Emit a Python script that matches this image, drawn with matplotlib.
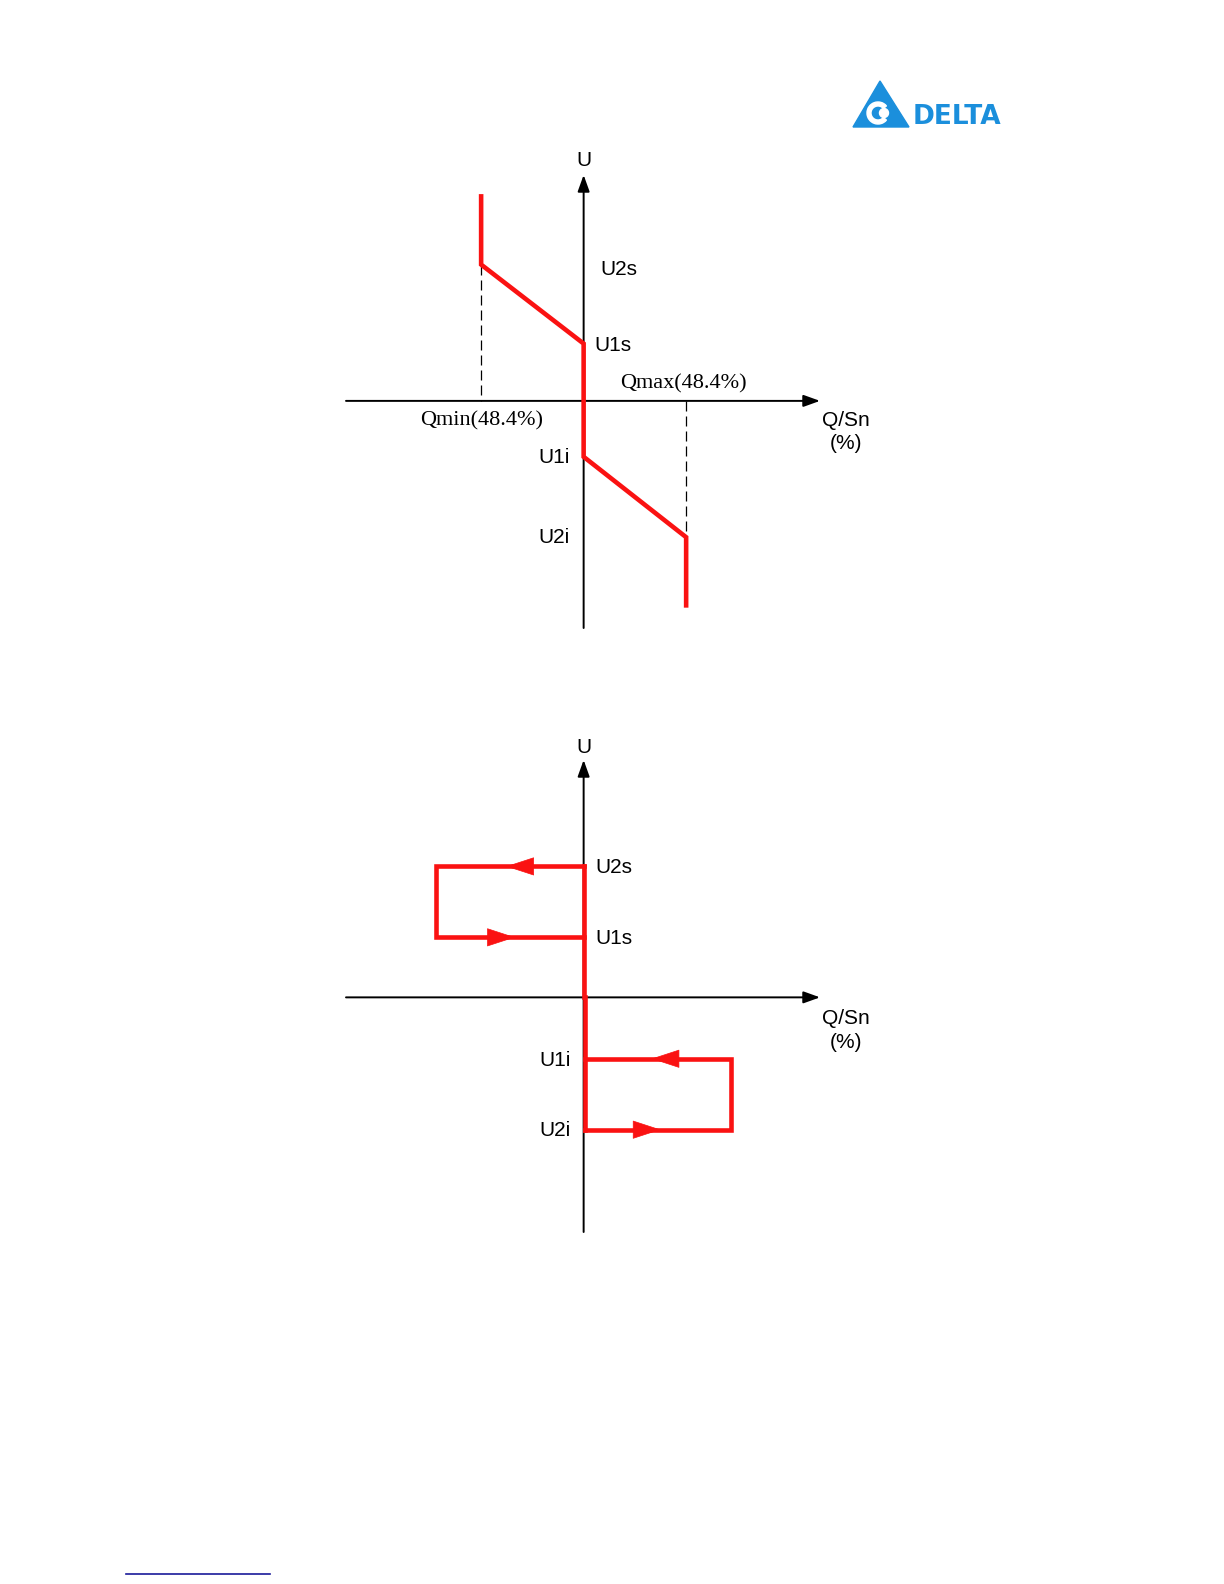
import matplotlib
matplotlib.use("Agg")
import matplotlib.pyplot as plt
from matplotlib.patches import Polygon, Circle, Wedge

# Datos de la curva Q(U) (grafico superior): Q/Sn en %, U en % de Un
q_curva = [-48.4, -48.4, 0.0, 0.0, 48.4, 48.4]
u_curva = [115.0, 110.0, 104.2, 95.9, 90.0, 85.0]

# Niveles de tension del grafico inferior (histeresis)
u2s_inf, u1s_inf, u1i_inf, u2i_inf = 109.6, 104.4, 95.5, 90.3
q_lazo = 69.6          # anchura de los lazos en %
q_desplazado = 0.8     # el tramo inferior esta ligeramente desplazado
q_lazo_sup = [0.0, -q_lazo, -q_lazo, 0.0]
u_lazo_sup = [u2s_inf, u2s_inf, u1s_inf, u1s_inf]
q_lazo_inf = [q_desplazado, q_lazo, q_lazo, q_desplazado]
u_lazo_inf = [u1i_inf, u1i_inf, u2i_inf, u2i_inf]
q_vertical = [0.0, 0.0]
u_vertical = [u2s_inf, 100.0]
q_vertical_inf = [q_desplazado, q_desplazado]
u_vertical_inf = [100.0, u2i_inf]

# Flechas del lazo: (q_base, q_punta, u)
flechas = [(-24.0, -36.6, u2s_inf), (-45.0, -32.4, u1s_inf),
           (45.0, 32.0, u1i_inf), (24.0, 36.4, u2i_inf)]

ROJO = "#fa1212"
SANS = "Liberation Sans"
SERIF = "Liberation Serif"

W, H = 1224, 1584
fig = plt.figure(figsize=(W / 100, H / 100), dpi=100)


def crear_ejes(px_izq, px_sup, px_der, px_inf, xlim, ylim):
    ax = fig.add_axes([px_izq / W, 1 - px_inf / H, (px_der - px_izq) / W, (px_inf - px_sup) / H])
    ax.set_xlim(*xlim)
    ax.set_ylim(*ylim)
    ax.axis("off")
    return ax


def dibujar_ejes(ax):
    x0, x1 = ax.get_xlim()
    y0, y1 = ax.get_ylim()
    props = dict(arrowstyle="-|>,head_length=1.0,head_width=0.36", mutation_scale=10,
                 lw=1.4, color="black", shrinkA=0, shrinkB=0)
    ax.annotate("", xy=(x1, 100), xytext=(x0, 100), arrowprops=props)
    ax.annotate("", xy=(0, y1), xytext=(0, y0), arrowprops=props)


def etiqueta(ax, x, y, texto, familia=SANS, tam=15):
    ax.text(x, y, texto, ha="center", va="center", fontsize=tam, family=familia, clip_on=False)


# ---------------- Grafico superior ----------------
ax1 = crear_ejes(346, 175, 820, 628, (-112.2, 111.6), (83.34, 116.57))
dibujar_ejes(ax1)
ax1.plot([q_curva[1], q_curva[1]], [u_curva[1], 100], color="black", lw=0.9, ls=(0, (8, 4)))
ax1.plot([q_curva[4], q_curva[4]], [100, u_curva[4]], color="black", lw=0.9, ls=(0, (8, 4)))
ax1.plot(q_curva, u_curva, color=ROJO, lw=3.3, solid_joinstyle="miter", zorder=5)

etiqueta(ax1, 0, 117.65, "U")
etiqueta(ax1, 16.7, 109.65, "U2s")
etiqueta(ax1, 13.8, 104.05, "U1s")
etiqueta(ax1, -13.8, 95.85, "U1i")
etiqueta(ax1, -13.8, 89.95, "U2i")
etiqueta(ax1, 47.2, 101.25, "Qmax(48.4%)", SERIF, 16)
etiqueta(ax1, -48.2, 98.5, "Qmin(48.4%)", SERIF, 16)
etiqueta(ax1, 124, 98.55, "Q/Sn")
etiqueta(ax1, 124, 96.85, "(%)")

# ---------------- Grafico inferior ----------------
ax2 = crear_ejes(346, 760, 820, 1232, (-112.2, 111.6), (82.8, 117.4))
dibujar_ejes(ax2)
ax2.plot(q_lazo_sup, u_lazo_sup, color=ROJO, lw=3.3, solid_joinstyle="miter", zorder=5)
ax2.plot(q_lazo_inf, u_lazo_inf, color=ROJO, lw=3.3, solid_joinstyle="miter", zorder=5)
ax2.plot(q_vertical, u_vertical, color=ROJO, lw=3.3, zorder=5)
ax2.plot(q_vertical_inf, u_vertical_inf, color=ROJO, lw=3.3, zorder=5)
for q_base, q_punta, u in flechas:
    ax2.annotate("", xy=(q_punta, u), xytext=(q_base, u), zorder=6,
                 arrowprops=dict(arrowstyle="-|>,head_length=1.9,head_width=0.62",
                                 mutation_scale=10, lw=0.5, color=ROJO, shrinkA=0, shrinkB=0))

etiqueta(ax2, 0, 118.3, "U")
etiqueta(ax2, 14.3, 109.5, "U2s")
etiqueta(ax2, 14.3, 104.3, "U1s")
etiqueta(ax2, -13.35, 95.35, "U1i")
etiqueta(ax2, -13.35, 90.25, "U2i")
etiqueta(ax2, 124, 98.45, "Q/Sn")
etiqueta(ax2, 124, 96.7, "(%)")

# ---------------- Logotipo y linea inferior ----------------
AZUL = "#1b8fdc"
fondo = fig.add_axes([0, 0, 1, 1], zorder=-1)
fondo.set_xlim(0, W)
fondo.set_ylim(H, 0)
fondo.axis("off")
fondo.add_patch(Polygon([[880, 81], [853, 127], [909, 127]], closed=True, color=AZUL))
fondo.add_patch(Wedge((878, 113), 11, 40, 320, width=4, color="white"))
fondo.add_patch(Circle((884, 113), 4.5, color="white"))
fondo.text(913, 117, "DELTA", fontsize=19, fontweight="heavy", color=AZUL,
           family="DejaVu Sans", va="center", ha="left")
fondo.plot([126, 270], [1574, 1574], color="#1a1a9a", lw=1.2)

fig.savefig("out.png", dpi=100)
